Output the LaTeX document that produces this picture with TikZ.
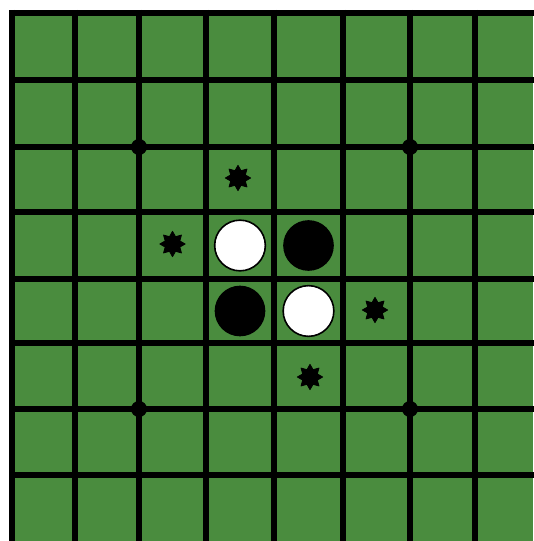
\documentclass[tikz,border=0pt]{standalone}
\usetikzlibrary{shapes.geometric}
\definecolor{boardgreen}{RGB}{74,140,62}

\begin{document}
\begin{tikzpicture}[x=0.75pt, y=-0.75pt, line join=round,
    disc/.style={circle, minimum size=38pt, inner sep=0pt},
    whitedisc/.style={disc, draw=black, line width=1.2pt, fill=white},
    blackdisc/.style={disc, fill=black},
    hint/.style={star, star points=8, star point ratio=1.6, minimum size=19pt, inner sep=0pt, fill=black, draw=black, line width=0.6pt}]
    \useasboundingbox (0,0) rectangle (533,541);
    \fill[boardgreen] (12,13) rectangle (533,541);
    % grid
    \foreach \x in {12,75,139,206,274,343,410,475}
      \draw[line width=5pt] (\x,10) -- (\x,545);
    \foreach \y in {13,80,147,212,279,343,409,475}
      \draw[line width=5pt] (9,\y) -- (540,\y);
    % star points
    \foreach \x in {139,410}
      \foreach \y in {147,409}
        \fill (\x,\y) circle (8);
    % starting position
    \node[whitedisc] (d4) at (240,245.5) {};
    \node[blackdisc] (e4) at (308.5,245.5) {};
    \node[blackdisc] (d5) at (240,311) {};
    \node[whitedisc] (e5) at (308.5,311) {};
    % legal moves
    \node[hint] (d3) at (238,178) {};
    \node[hint] (c4) at (172.5,244) {};
    \node[hint] (f5) at (375,310) {};
    \node[hint] (e6) at (310,377) {};
  \end{tikzpicture}
\end{document}
